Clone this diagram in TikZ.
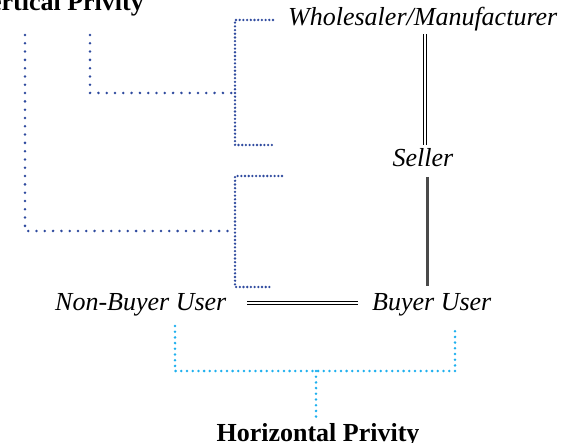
\documentclass[tikz,border=0pt]{standalone}
\usepackage{fontspec}
\setmainfont{Liberation Serif}
\definecolor{vblue}{HTML}{2E4A9E}
\definecolor{hcyan}{HTML}{1FB0EE}
\definecolor{linkgray}{HTML}{4A4A4A}
\tikzset{
  party/.style={inner sep=0pt, font=\fontsize{26}{31}\selectfont\itshape},
  heading/.style={inner sep=0pt, font=\fontsize{26}{31}\selectfont\bfseries},
  sparsedots/.style={vblue, line width=2.8pt, line cap=round, dash pattern=on 0pt off 8.3pt},
  densedots/.style={vblue, line width=2.6pt, line cap=round, dash pattern=on 0pt off 3.7pt},
  hdots/.style={hcyan, line width=2.8pt, line cap=round, dash pattern=on 0pt off 5.7pt},
  rail/.style={draw=black, line width=1pt},
  solidlink/.style={draw=linkgray, line width=3pt}
}
\begin{document}
\begin{tikzpicture}[x=1pt,y=-1pt]
\useasboundingbox (0,0) rectangle (567,443);

% headings
\node[heading, anchor=base east] (vp) at (144,11) {Vertical Privity};
\node[heading, anchor=base] (hp) at (318,441.5) {Horizontal Privity};

% parties
\node[party, anchor=base west] (wm) at (288,26) {Wholesaler/Manufacturer};
\node[party, anchor=base] (sel) at (423,167) {Seller};
\node[party, anchor=base west] (nbu) at (55,310) {Non-Buyer User};
\node[party, anchor=base west] (bu) at (372,310) {Buyer User};

% connector end points
\coordinate (wmB) at (425,34);
\coordinate (selT) at (425,145);
\coordinate (selB) at (427,177);
\coordinate (buT) at (427,286);
\coordinate (nbuR) at (247,303);
\coordinate (buL) at (358,303);

% chain of sale: double rails and a single link
\draw[rail] ([xshift=-1.1pt]wmB) -- ([xshift=-1.1pt]selT);
\draw[rail] ([xshift=1.1pt]wmB) -- ([xshift=1.1pt]selT);
\draw[solidlink] (selB) -- (buT);
\draw[rail] ([yshift=-1.1pt]nbuR) -- ([yshift=-1.1pt]buL);
\draw[rail] ([yshift=1.1pt]nbuR) -- ([yshift=1.1pt]buL);

% vertical privity brackets
\coordinate (b1t) at (273,20);
\coordinate (b1b) at (273,145);
\coordinate (b2t) at (282,176);
\coordinate (b2b) at (273,287);
\draw[densedots] (b1t) -- (235,20) -- (235,145) -- (b1b);
\draw[densedots] (b2t) -- (235,176) -- (235,287) -- (b2b);
\coordinate (v1) at (90,35);
\coordinate (v2) at (25,35);
\draw[sparsedots] (v1) -- (90,93) -- (235,93);
\draw[sparsedots] (v2) -- (25,231) -- (235,231);

% horizontal privity bracket
\coordinate (h1) at (175,326);
\coordinate (h2) at (455,326);
\coordinate (hm) at (316,420);
\draw[hdots] (h1) -- (175,371) -- (455,371) -- (h2);
\draw[hdots] (316,371) -- (hm);
\end{tikzpicture}
\end{document}
